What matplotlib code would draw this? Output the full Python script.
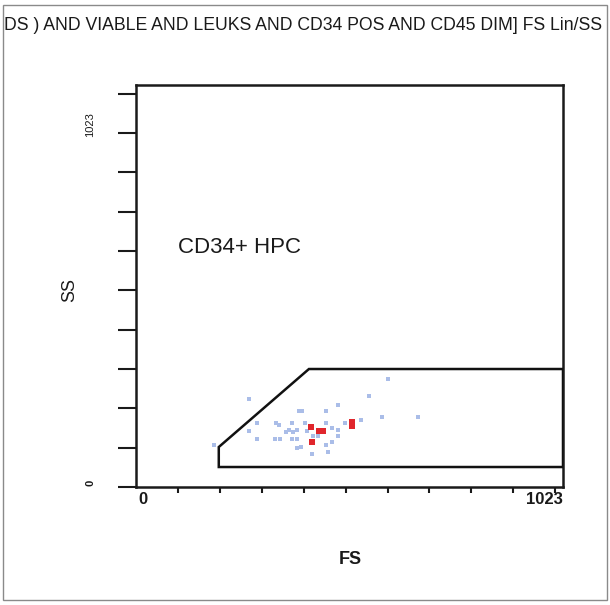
import matplotlib
matplotlib.use("Agg")
import matplotlib.pyplot as plt
from matplotlib.patches import Polygon, Rectangle

plt.rcParams['font.family'] = ['Liberation Sans', 'DejaVu Sans']

# Events outside the CD45-dim core (light blue) and gated HPC events (red)
fs_blue = [276, 615, 569, 493, 398, 405, 464, 295, 342, 349, 381, 413, 510, 549,
           601, 689, 276, 374, 383, 393, 366, 418, 479, 493, 493, 295, 339, 352,
           381, 393, 432, 444, 479, 464, 393, 403, 469, 430, 190, 464]
ss_blue = [229, 281, 237, 213, 198, 198, 198, 167, 167, 161, 167, 167, 167, 174,
           182, 182, 146, 148, 143, 148, 143, 146, 154, 148, 133, 125, 125, 125,
           125, 125, 133, 133, 117, 109, 102, 104, 91, 86, 109, 167]
fs_red = [427, 447, 457, 527, 527, 430]
ss_red = [156, 146, 146, 169, 159, 117]

# Gate outline (FS, SS)
gate_fs = [202, 202, 422, 1042, 1042]
gate_ss = [52, 104, 307, 307, 52]

axis_max = 1023
tick_step = axis_max / 10
lim = 1042

fig = plt.figure(figsize=(6.10, 6.05), dpi=100)
fig.patch.set_facecolor('white')

# outer frame
fig.add_artist(Rectangle((3 / 610, 5 / 605), 604 / 610, 595 / 605,
                         transform=fig.transFigure, fill=False,
                         edgecolor='#8a8a8a', linewidth=1.0))

ax = fig.add_axes([136 / 610, 118 / 605, 427 / 610, 402 / 605])
ax.set_xlim(0, lim)
ax.set_ylim(0, 1046)
for s in ax.spines.values():
    s.set_linewidth(1.8)
    s.set_color('#1a1a1a')

ax.set_xticks([tick_step * k for k in range(1, 11)])
ax.set_yticks([tick_step * k for k in range(0, 11)])
ax.tick_params(axis='x', direction='out', length=4, width=1.5, color='#1a1a1a',
               labelbottom=False)
ax.tick_params(axis='y', direction='out', length=13, width=1.5, color='#1a1a1a',
               labelleft=False)

ax.scatter(fs_blue, ss_blue, marker='s', s=11, color='#aabde8', linewidths=0, zorder=2)
ax.scatter(fs_red, ss_red, marker='s', s=15, color='#e0262c', linewidths=0, zorder=3)

ax.add_patch(Polygon(list(zip(gate_fs, gate_ss)), closed=True, fill=False,
                     edgecolor='#111111', linewidth=1.8, zorder=4))

ax.text(0.098, 0.595, 'CD34+ HPC', transform=ax.transAxes, fontsize=16,
        ha='left', va='center', color='#1a1a1a')

# axis end labels
fig.text(143 / 610, 1 - 500 / 605, '0', fontsize=12, fontweight='bold',
         ha='center', va='center', color='#1a1a1a')
fig.text(563 / 610, 1 - 500 / 605, '1023', fontsize=12, fontweight='bold',
         ha='right', va='center', color='#1a1a1a')
fig.text(90 / 610, 1 - 125 / 605, '1023', fontsize=8, rotation=90,
         ha='center', va='center', color='#1a1a1a')
fig.text(90 / 610, 1 - 483 / 605, '0', fontsize=8, fontweight='bold', rotation=90,
         ha='center', va='center', color='#1a1a1a')

fig.text(350 / 610, 1 - 560 / 605, 'FS', fontsize=13, fontweight='bold',
         ha='center', va='center', color='#1a1a1a')
fig.text(70 / 610, 1 - 290 / 605, 'SS', fontsize=13, rotation=90,
         ha='center', va='center', color='#1a1a1a')

fig.text(4 / 610, 1 - 25 / 605,
         'DS ) AND VIABLE AND LEUKS AND CD34 POS AND CD45 DIM] FS Lin/SS',
         fontsize=12.7, ha='left', va='center', color='#1a1a1a')

fig.savefig('out.png', dpi=100, facecolor='white')
